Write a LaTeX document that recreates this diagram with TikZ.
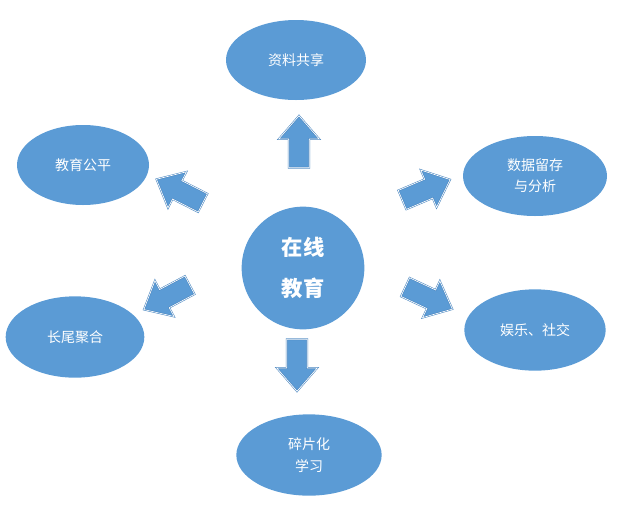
\documentclass[tikz,border=0pt]{standalone}
\usepackage{fontspec}
\setmainfont{Noto Sans CJK SC}
\usepackage{tikz}
\usetikzlibrary{
    shapes.geometric,
    shapes.arrows
}
\definecolor{chartBlue}{HTML}{5B9BD5}
\definecolor{chartEdge}{HTML}{4A86C0}
\tikzset{
    % 周りのテーマ(楕円)
    topic/.style={
        ellipse,
        fill=chartBlue,
        text=white,
        inner sep=0pt,
        align=center,
        font=\fontsize{10.5pt}{16pt}\selectfont
    },
    % 中心の円
    hub/.style={
        circle,
        fill=chartBlue,
        text=white,
        minimum size=92pt,
        inner sep=0pt,
        align=center,
        font=\fontsize{16pt}{31pt}\selectfont\bfseries
    },
    % 太い矢印
    pointer/.style={
        single arrow,
        fill=chartBlue,
        draw=chartEdge,
        double=white,
        double distance=0.5pt,
        line width=0.4pt,
        inner xsep=0pt,
        inner ysep=7.5pt,
        single arrow head extend=7.5pt,
        single arrow tip angle=82,
        minimum height=39pt,
        anchor=tail
    }
}

\begin{document}
\begin{tikzpicture}[x=0.75pt, y=-0.75pt]
    \useasboundingbox (0,0) rectangle (628,511);

    % 中心
    \node[hub] (hub) at (303,268) {在线\\教育};

    % テーマ
    \node[topic, minimum width=105pt, minimum height=60pt] (share) at (296,60) {资料共享};
    \node[topic, minimum width=99pt, minimum height=60pt] (fair) at (83,165) {教育公平};
    \node[topic, minimum width=108pt, minimum height=60pt] (data) at (535,176) {数据留存\\与分析};
    \node[topic, minimum width=104pt, minimum height=61pt] (tail) at (75,337) {长尾聚合};
    \node[topic, minimum width=106pt, minimum height=61pt] (fun) at (535,330) {娱乐、社交};
    \node[topic, minimum width=109pt, minimum height=61pt] (frag) at (309,455) {碎片化\\学习};

    % 矢印
    \node[pointer, rotate=90] (p1) at (299,168) {};
    \node[pointer, rotate=153] (p2) at (203,203) {};
    \node[pointer, rotate=23] (p3) at (402,200) {};
    \node[pointer, rotate=208] (p4) at (190,285) {};
    \node[pointer, rotate=-25] (p5) at (405,287) {};
    \node[pointer, rotate=-90] (p6) at (297,339) {};

\end{tikzpicture}
\end{document}
